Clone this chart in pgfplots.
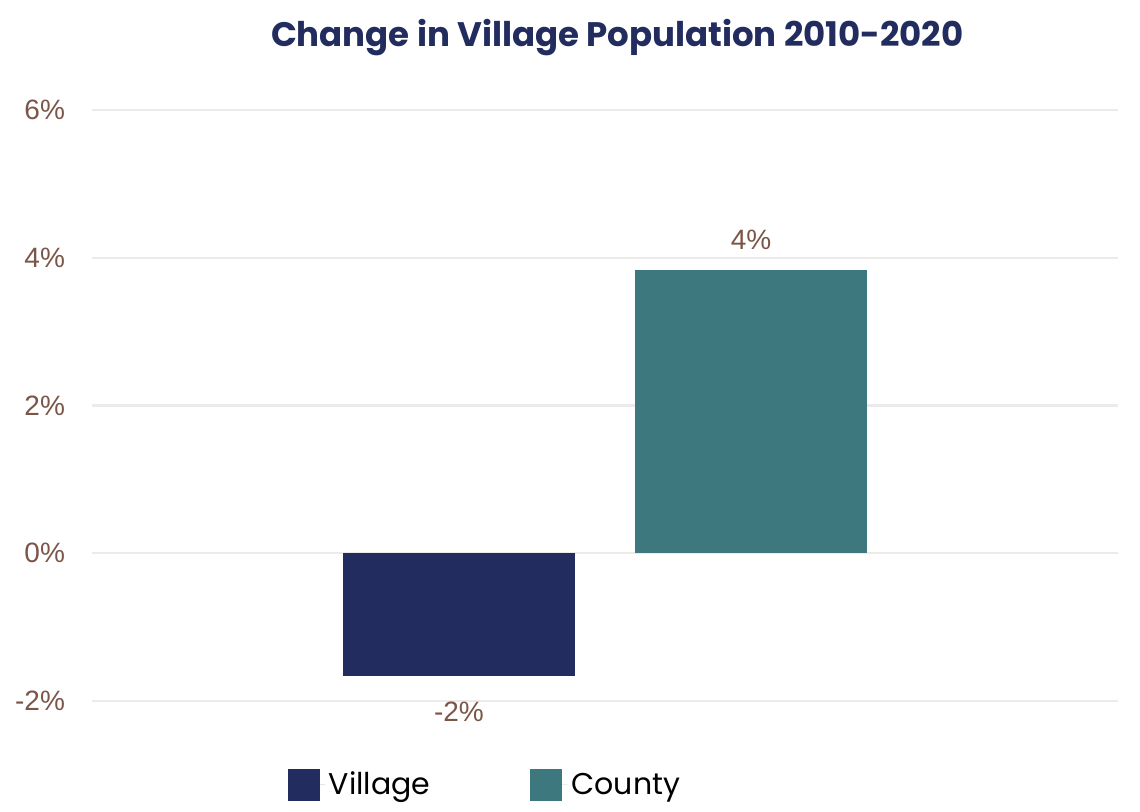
\documentclass[border=0pt]{standalone}
\usepackage{fontspec}
\setmainfont{Liberation Sans}
\newfontfamily\titlefont{Poppins Bold}
\newfontfamily\legfont{Poppins}
\usepackage{pgfplots}
\pgfplotsset{compat=1.18}
\definecolor{navy}{HTML}{222C5E}
\definecolor{teal2}{HTML}{3C787E}
\definecolor{ticktxt}{HTML}{7A5548}
\definecolor{gridc}{HTML}{EDEAEA}
\begin{document}
\begin{tikzpicture}
\useasboundingbox (-46pt,-55.5pt) rectangle (524pt,350.5pt);
\begin{axis}[
  at={(0pt,0pt)}, anchor=south west,
  scale only axis, width=513pt, height=295.5pt,
  xmin=-1, xmax=1, ymin=-2, ymax=6,
  ybar=30pt, bar width=116pt,
  axis line style={draw=none},
  xtick=\empty,
  ytick={-2,0,2,4,6},
  yticklabels={-2\%,0\%,2\%,4\%,6\%},
  major tick length=0pt,
  ymajorgrids, grid style={draw=gridc, line width=1.2pt},
  yticklabel style={font=\fontsize{14}{16}\selectfont, text=ticktxt, anchor=east, xshift=-10pt},
  point meta=explicit symbolic,
  nodes near coords,
  every node near coord/.append style={font=\fontsize{14}{16}\selectfont, text=ticktxt, inner sep=0pt},
  legend style={draw=none, fill=none, at={(0.384,-0.142)}, anchor=center, inner sep=0pt,
    font=\legfont\fontsize{15}{17}\selectfont, text=black,
    /tikz/every even column/.append style={column sep=48pt}},
  legend columns=2,
  legend image code/.code={\fill[#1, draw=none] (0pt,-8pt) rectangle (16pt,8pt); \path (0pt,0pt) -- (18.5pt,0pt);},
  clip=false,
]
\addplot[fill=navy, draw=none, every node near coord/.append style={anchor=north, yshift=-13pt}] table[meta=lab] {
x y lab
0 -1.66 -2\%
};
\addplot[fill=teal2, draw=none, every node near coord/.append style={anchor=south, yshift=10pt}] table[meta=lab] {
x y lab
0 3.83 4\%
};
\legend{Village, County}
\node[font=\titlefont\fontsize{17}{19}\selectfont, text=navy] at (rel axis cs:0.512,1.122) {Change in Village Population 2010-2020};
\end{axis}
\end{tikzpicture}
\end{document}
